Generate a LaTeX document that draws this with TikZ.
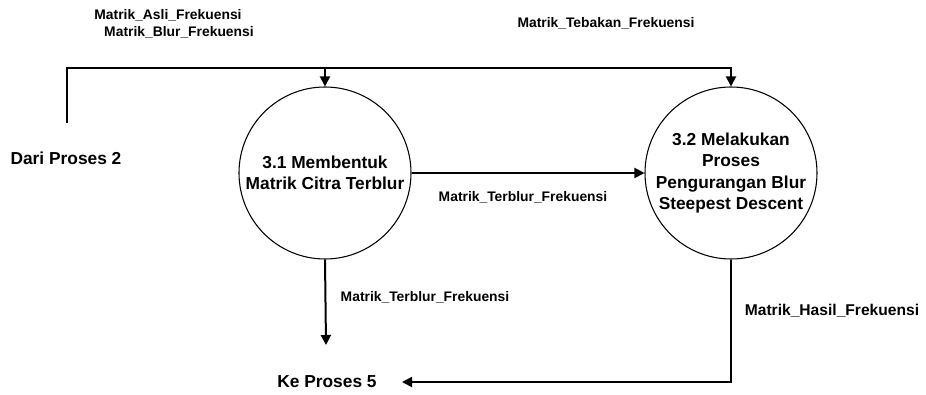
\documentclass[tikz,border=0pt]{standalone}
\usepackage{fontspec}
\setmainfont{Liberation Sans}
\usepackage{tikz}
\usetikzlibrary{arrows.meta}
\tikzset{
  proc/.style={circle, draw=black, line width=0.8pt, minimum size=129pt,
    inner sep=0pt, align=center, font=\bfseries\fontsize{13}{16}\selectfont},
  ext/.style={font=\bfseries\fontsize{13}{16}\selectfont, inner sep=1pt},
  flow/.style={-{Triangle[length=7.5pt,width=7.5pt]}, line width=1.5pt},
  flowlabel/.style={font=\bfseries\fontsize{10.4}{12}\selectfont, inner sep=1pt},
}

\begin{document}
\begin{tikzpicture}[x=0.75pt, y=-0.75pt]
  \useasboundingbox (0,0) rectangle (926,395);

  \node[proc] (p31) at (325,173) {3.1 Membentuk\\Matrik Citra Terblur};
  \node[proc] (p32) at (731,173) {3.2 Melakukan\\Proses\\Pengurangan Blur\\Steepest Descent};

  \node[ext] (dari) at (66,158) {Dari Proses 2};
  \node[ext] (ke)   at (327,382) {Ke Proses 5};

  \coordinate (src)   at (67,123);
  \coordinate (atas)  at (67,68);
  \coordinate (out31) at (326,345);
  \coordinate (in5)   at (402,382);

  \draw[flow] (src) -- (atas) -- (atas -| p32.north) -- (p32.north);
  \draw[flow] (atas -| p31.north) -- (p31.north);
  \draw[flow] (p31.east) -- (p32.west);
  \draw[flow] (p31.south) -- (out31);
  \draw[flow] (p32.south) -- (p32.south |- in5) -- (in5);

  \node[flowlabel] (asli)    at (168,15)  {Matrik\_Asli\_Frekuensi};
  \node[flowlabel] (blur)    at (179,32)  {Matrik\_Blur\_Frekuensi};
  \node[flowlabel] (tebakan) at (606,23)  {Matrik\_Tebakan\_Frekuensi};
  \node[flowlabel] (terblur) at (523,197) {Matrik\_Terblur\_Frekuensi};
  \node[flowlabel] (keluar)  at (425,297) {Matrik\_Terblur\_Frekuensi};
  \node[flowlabel, font=\bfseries\fontsize{11.7}{13}\selectfont] (hasil) at (832,311) {Matrik\_Hasil\_Frekuensi};

\end{tikzpicture}
\end{document}
